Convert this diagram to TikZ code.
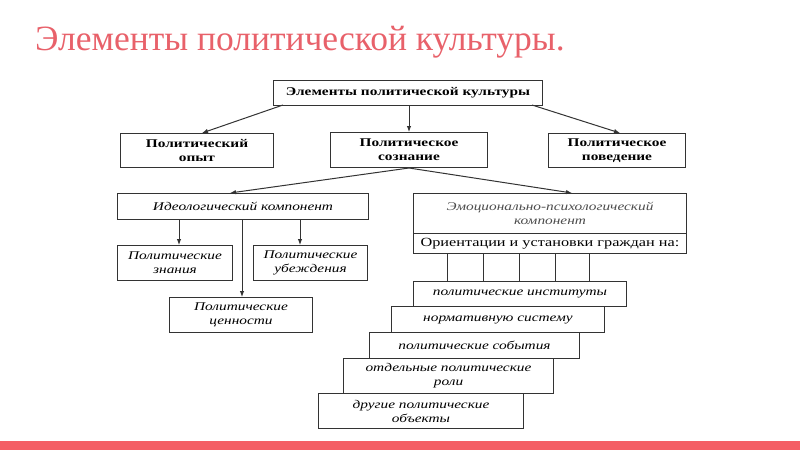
\documentclass[tikz,border=0pt]{standalone}
\usepackage{fontspec}
\setmainfont{Liberation Serif}
\newfontfamily\boxfont[FakeStretch=1.3]{Liberation Serif}
\usetikzlibrary{arrows.meta,calc}
\definecolor{titlered}{HTML}{E8616A}
\definecolor{barred}{HTML}{F45E65}
\definecolor{frame}{HTML}{333333}
\tikzset{
  box/.style={draw=frame, line width=1pt, anchor=north west, inner sep=1pt, align=center, font=\boxfont\fontsize{12}{14}\selectfont},
  bbox/.style={box, font=\boxfont\bfseries\fontsize{11.8}{14}\selectfont},
  ibox/.style={box, font=\boxfont\itshape\fontsize{11.8}{14}\selectfont},
  arr/.style={draw=frame, line width=1pt, -{Latex[length=6pt,width=4.5pt]}},
  ln/.style={draw=frame, line width=1pt}
}
\begin{document}
\begin{tikzpicture}[x=1pt,y=-1pt]
\useasboundingbox (0,0) rectangle (800,450);
\fill[barred] (0,441) rectangle (800,450);
\node[anchor=base west, text=titlered, font=\fontsize{35.5}{40}\selectfont, inner sep=0] (title) at (35,50) {Элементы политической культуры.};

\node[bbox, minimum width=269pt, minimum height=25pt] (top) at (273,80) {Элементы политической культуры};
\node[bbox, minimum width=153pt, minimum height=34pt] (exp) at (120,133) {Политический\\опыт};
\node[bbox, minimum width=157pt, minimum height=35pt] (cons) at (330,132) {Политическое\\сознание};
\node[bbox, minimum width=137pt, minimum height=34pt] (beh) at (548,133) {Политическое\\поведение};

\draw[arr] (283,105) -- (202,133);
\draw[arr] (top.south -| cons.north) -- (cons.north);
\draw[arr] (532,105) -- (620,133);

\node[ibox, minimum width=251pt, minimum height=26pt] (ideo) at (117,193) {Идеологический компонент};
\node[ibox, minimum width=273pt, minimum height=40pt, text=black!70] (emo) at (413,193) {Эмоционально-психологический\\компонент};
\node[box, minimum width=273pt, minimum height=20pt, font=\boxfont\fontsize{12.5}{14}\selectfont] (orient) at (413,233) {Ориентации и установки граждан на:};

\coordinate (ideotop) at (230,193);
\coordinate (emotop) at (572,193);
\draw[arr] (cons.south) -- (ideotop);
\draw[arr] (cons.south) -- (emotop);

\node[ibox, minimum width=115pt, minimum height=35pt] (know) at (117,245) {Политические\\знания};
\node[ibox, minimum width=114pt, minimum height=35pt] (belief) at (253,245) {Политические\\убеждения};
\node[ibox, minimum width=143pt, minimum height=35pt] (values) at (169,297) {Политические\\ценности};

\draw[arr] (ideo.south -| 179,0) -- (know.north -| 179,0);
\draw[arr] (ideo.south -| 300,0) -- (belief.north -| 300,0);
\draw[arr] (ideo.south -| 242,0) -- (values.north -| 242,0);

\node[ibox, minimum width=213pt, minimum height=25pt] (s1) at (413,281) {политические институты};
\node[ibox, minimum width=213pt, minimum height=26pt] (s2) at (391,306) {нормативную систему};
\node[ibox, minimum width=210pt, minimum height=26pt] (s3) at (369,332) {политические события};
\node[ibox, minimum width=210pt, minimum height=35pt] (s4) at (343,358) {отдельные политические\\роли};
\node[ibox, minimum width=205pt, minimum height=35pt] (s5) at (318,393) {другие политические\\объекты};

\foreach \x in {447,483,519,555,589} {
  \draw[ln] (orient.south -| \x,0) -- (s1.north -| \x,0);
}
\end{tikzpicture}
\end{document}
